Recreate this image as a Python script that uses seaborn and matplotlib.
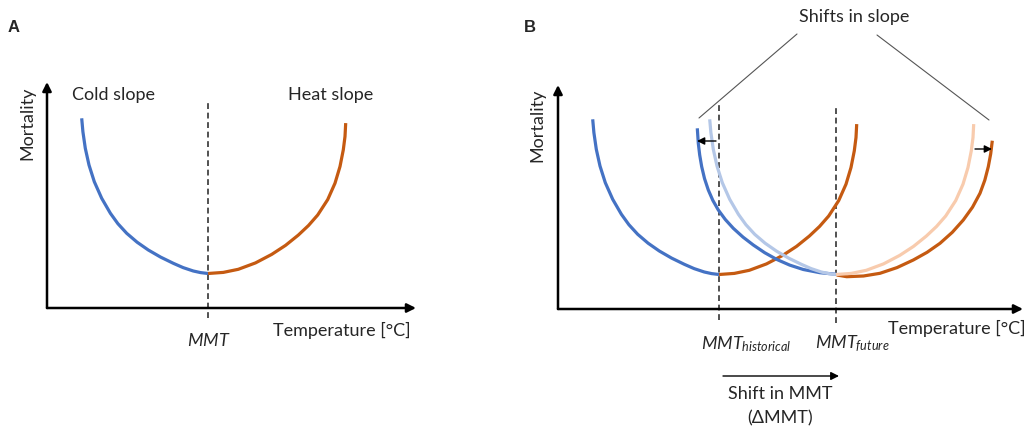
import matplotlib
matplotlib.use("Agg")
import matplotlib.pyplot as plt
import seaborn as sns
import numpy as np
import pandas as pd

# ---------------- data (arbitrary units) ----------------
# historical curve shape relative to the MMT (cold branch and heat branch)
cold_dT = [-12.63, -12.51, -12.27, -11.9, -11.37, -10.63, -9.76, -9.01, -8.13, -7.09,
           -5.97, -4.74, -3.47, -2.49, -1.47, -0.74, 0.0]
cold_M = [18.97, 17.63, 15.97, 14.3, 12.63, 10.97, 9.47, 8.43, 7.47, 6.58,
          5.8, 5.09, 4.47, 4.04, 3.7, 3.54, 3.45]
heat_dT = [0.0, 1.53, 3.03, 4.75, 6.37, 7.75, 9.03, 10.05, 10.97, 11.97,
           12.7, 13.2, 13.53, 13.7, 13.77]
heat_M = [3.45, 3.56, 3.87, 4.51, 5.36, 6.26, 7.29, 8.25, 9.3, 10.84,
          12.48, 14.15, 15.82, 17.15, 18.49]

mmt_hist = 16.1
mmt_future = 27.8

# future curves with changed slopes (panel B, dark colours)
fut_cold_T = [13.93, 14.03, 14.17, 14.37, 14.65, 15.03, 15.48, 16.03, 16.73, 17.53,
              18.5, 19.53, 20.67, 21.87, 23.17, 24.53, 26.19, 27.87]
fut_cold_M = [18.07, 16.57, 15.4, 14.23, 13.05, 11.9, 10.87, 9.9, 8.95, 8.07,
              7.19, 6.4, 5.63, 4.96, 4.39, 3.95, 3.63, 3.47]
fut_heat_T = [27.87, 28.87, 30.55, 32.2, 33.9, 35.53, 36.91, 38.2, 39.43, 40.53,
              41.45, 42.2, 42.68, 43.03, 43.27, 43.43]
fut_heat_M = [3.4, 3.23, 3.3, 3.57, 4.14, 4.9, 5.67, 6.57, 7.67, 8.9,
              10.18, 11.57, 12.88, 14.23, 15.52, 16.83]

# ---------------- style ----------------
sns.set_theme(style="white")
plt.rcParams["font.family"] = ["Lato", "DejaVu Sans"]
plt.rcParams["mathtext.fontset"] = "custom"
plt.rcParams["mathtext.it"] = "Lato:italic"
plt.rcParams["mathtext.rm"] = "Lato"

BLUE = "#4472C4"
ORANGE = "#C55A11"
LBLUE = "#B4C7E7"
LORANGE = "#F8CBAD"
LW = 2.3
FS = 13

fig = plt.figure(figsize=(10.3, 4.3), dpi=100)
axA = fig.add_axes([0, 0, 0.5, 1])
axB = fig.add_axes([0.5, 0, 0.5, 1])
axA.set_xlim(-4.7, 46.8)
axA.set_ylim(-12.2, 30.8)
axB.set_xlim(-4.3, 47.2)
axB.set_ylim(-12.1, 30.9)
for ax in (axA, axB):
    ax.set_axis_off()


def curve(ax, T, M, color):
    sns.lineplot(x=list(T), y=list(M), ax=ax, sort=False, estimator=None,
                 color=color, lw=LW, solid_capstyle="butt", solid_joinstyle="round",
                 legend=False)


def shifted(dT, mmt):
    return [mmt + d for d in dT]


def axes_arrows(ax, xmax, ymax):
    kw = dict(arrowstyle="-|>", lw=1.8, color="black", mutation_scale=13,
              shrinkA=0, shrinkB=0)
    ax.annotate("", xy=(0, ymax), xytext=(0, 0), arrowprops=kw)
    ax.annotate("", xy=(xmax, 0), xytext=(0, 0), arrowprops=kw)


# ---------------- Panel A ----------------
axes_arrows(axA, 36.9, 22.6)
axA.vlines(mmt_hist, -1.0, 20.5, colors="#333333", linestyles=(0, (3.5, 2.2)), lw=1.2)
curve(axA, shifted(cold_dT, mmt_hist), cold_M, BLUE)
curve(axA, shifted(heat_dT, mmt_hist), heat_M, ORANGE)

axA.text(-3.3, 28.1, "A", fontsize=12, fontweight="bold", ha="center", va="center",
         family=["Liberation Sans", "DejaVu Sans"])
axA.text(6.7, 21.3, "Cold slope", fontsize=FS, ha="center", va="center")
axA.text(28.4, 21.3, "Heat slope", fontsize=FS, ha="center", va="center")
axA.text(-2.0, 18.5, "Mortality", fontsize=FS, rotation=90, ha="center", va="center")
axA.text(29.5, -2.2, "Temperature [°C]", fontsize=FS, ha="center", va="center")
axA.text(16.2, -3.3, "$MMT$", fontsize=FS, ha="center", va="center")

# ---------------- Panel B ----------------
axes_arrows(axB, 46.5, 22.4)
axB.vlines(mmt_hist, -1.1, 20.5, colors="#333333", linestyles=(0, (3.5, 2.2)), lw=1.2)
axB.vlines(mmt_future, -1.4, 20.2, colors="#333333", linestyles=(0, (3.5, 2.2)), lw=1.2)

curve(axB, shifted(cold_dT, mmt_hist), cold_M, BLUE)
curve(axB, shifted(heat_dT, mmt_hist), heat_M, ORANGE)
curve(axB, fut_cold_T, fut_cold_M, BLUE)
curve(axB, fut_heat_T, fut_heat_M, ORANGE)
curve(axB, shifted(cold_dT, mmt_future), cold_M, LBLUE)
curve(axB, shifted(heat_dT, mmt_future), heat_M, LORANGE)

# small slope-shift arrows
skw = dict(arrowstyle="-|>", lw=1.0, color="black", mutation_scale=11, shrinkA=0, shrinkB=0)
axB.annotate("", xy=(13.9, 16.8), xytext=(15.8, 16.8), arrowprops=skw)
axB.annotate("", xy=(43.4, 16.0), xytext=(41.7, 16.0), arrowprops=skw)

# leader lines to "Shifts in slope"
axB.plot([23.9, 14.1], [27.5, 19.1], color="#555555", lw=0.8)
axB.plot([31.9, 43.1], [27.4, 18.9], color="#555555", lw=0.8)
axB.text(29.6, 29.2, "Shifts in slope", fontsize=FS, ha="center", va="center")

axB.text(-2.8, 28.2, "B", fontsize=12, fontweight="bold", ha="center", va="center",
         family=["Liberation Sans", "DejaVu Sans"])
axB.text(-2.1, 18.4, "Mortality", fontsize=FS, rotation=90, ha="center", va="center")
axB.text(39.9, -1.9, "Temperature [°C]", fontsize=FS, ha="center", va="center")
axB.text(14.3, -4.0, "$MMT_{historical}$", fontsize=FS, ha="left", va="baseline")
axB.text(25.7, -3.9, "$MMT_{future}$", fontsize=FS, ha="left", va="baseline")

# shift in MMT arrow
axB.annotate("", xy=(28.1, -6.7), xytext=(16.5, -6.7),
             arrowprops=dict(arrowstyle="-|>", lw=1.0, color="black", mutation_scale=12,
                             shrinkA=0, shrinkB=0))
axB.text(22.2, -8.5, "Shift in MMT", fontsize=FS, ha="center", va="center")
axB.text(22.2, -10.9, "(ΔMMT)", fontsize=FS, ha="center", va="center")

fig.savefig("out.png", dpi=100)
